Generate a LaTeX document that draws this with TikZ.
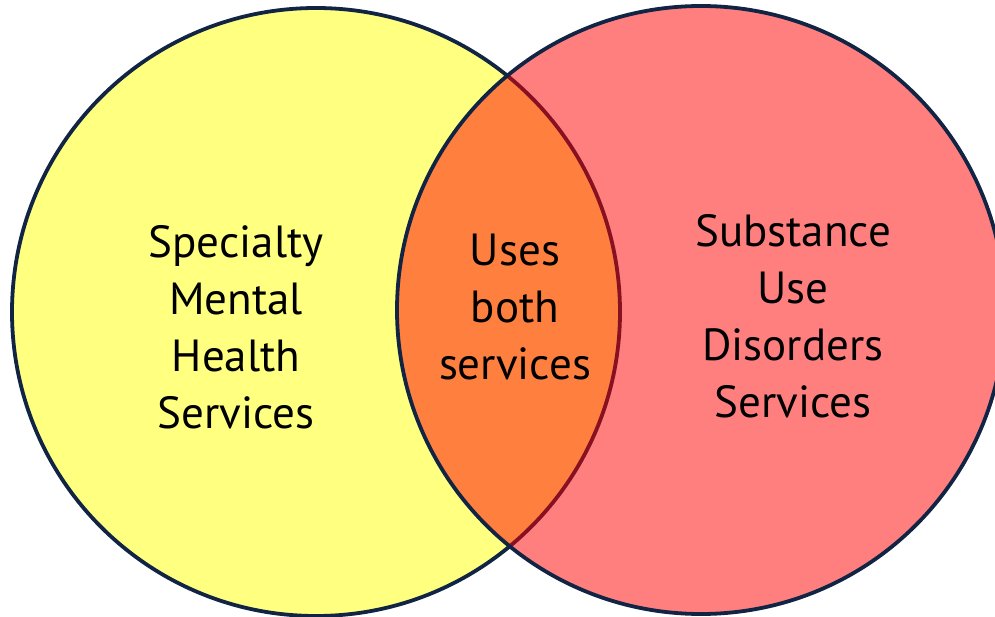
\documentclass[tikz,border=0pt]{standalone}
\usepackage{fontspec}
\setmainfont{PT Sans}
\definecolor{ringblue}{RGB}{17,36,68}
\definecolor{mhyellow}{RGB}{255,255,128}
\definecolor{sured}{RGB}{255,0,0}
\begin{document}
\begin{tikzpicture}[x=1pt,y=-1pt,
  ring/.style={draw=ringblue,line width=3.8pt},
  label/.style={align=center,font=\fontsize{45}{57}\selectfont,text=black,inner sep=0pt}]
\useasboundingbox (0,0) rectangle (995,617);
\clip (0,0) rectangle (995,617);
% mental health services
\path[ring,fill=mhyellow] (316,312) circle[radius=304];
% substance use disorders services, translucent so the overlap turns orange
\path[ring,fill=sured,fill opacity=0.5] (701,310) circle[radius=304];
\node[label] (mh) at (236,327) {Specialty\\Mental\\Health\\Services};
\node[label] (both) at (515,307) {Uses\\both\\services};
\node[label] (sud) at (793,316) {Substance\\Use\\Disorders\\Services};
\end{tikzpicture}
\end{document}
